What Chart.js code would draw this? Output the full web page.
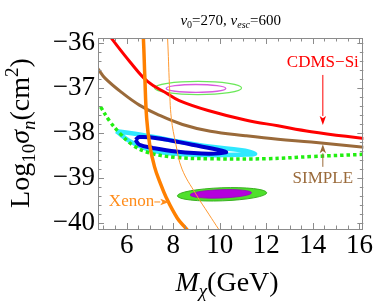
<!DOCTYPE html>
<html>
<head>
<meta charset="utf-8">
<script src="https://cdn.jsdelivr.net/npm/chart.js@4.4.1/dist/chart.umd.min.js"></script>
<style>
  html, body { margin: 0; padding: 0; background: #fff; }
  #c { display: block; }
</style>
</head>
<body>
<canvas id="c" width="374" height="305"></canvas>
<script>
// Axes
const xTicks = [6, 8, 10, 12, 14, 16];
const yTicks = [-40, -39, -38, -37, -36];

// Limites d'exclusion
const cdmsX = [5.1, 5.35, 6.13, 6.91, 7.7, 8.26, 9.5, 11.1, 12.5, 13.93, 16.3];
const cdmsY = [-35.73, -35.90, -36.41, -36.86, -37.11, -37.28, -37.50, -37.71, -37.84, -37.97, -38.13];

const simpleX = [4.6, 4.78, 5.07, 5.84, 6.55, 7.3, 8.4, 9.6, 11.1, 12.5, 13.93, 16.3];
const simpleY = [-36.46, -36.58, -36.78, -37.12, -37.38, -37.58, -37.81, -37.96, -38.06, -38.14, -38.20, -38.32];

const dottedX = [4.88, 5.28, 5.7, 6.27, 6.98, 8.12, 9.53, 12, 14, 16.3];
const dottedY = [-37.42, -37.74, -38.0, -38.27, -38.44, -38.54, -38.57, -38.57, -38.52, -38.47];

const xenonX = [6.68, 6.72, 6.78, 6.86, 7.0, 7.2, 7.4, 7.7, 8.18, 8.6, 8.7];
const xenonY = [-35.70, -35.90, -36.73, -37.67, -38.29, -38.75, -39.05, -39.43, -39.89, -40.15, -40.25];

const xenon2X = [7.72, 7.76, 7.84, 7.92, 8.12, 8.38, 8.97, 9.53, 9.96, 10.1];
const xenon2Y = [-35.70, -35.90, -36.94, -37.67, -38.26, -38.80, -39.35, -39.80, -40.14, -40.25];

// Contours fermés (régions)
const cyanX = [5.56, 6.68, 8.12, 9.53, 10.94, 11.52, 10.94, 9.53, 8.12, 6.98, 6.13, 5.56];
const cyanY = [-37.96, -38.04, -38.18, -38.30, -38.38, -38.46, -38.48, -38.49, -38.46, -38.37, -38.18, -37.96];

const blueX = [6.38, 6.55, 7.40, 8.82, 10.1, 10.27, 9.53, 8.12, 7.12, 6.55, 6.38];
const blueY = [-38.15, -38.09, -38.12, -38.26, -38.39, -38.43, -38.46, -38.41, -38.33, -38.26, -38.15];

// Ellipses (centre, demi-axes)
const blobCx = [9.07, 8.98, 10.1, 10.05];
const blobCy = [-37.0, -37.01, -39.36, -39.35];
const blobRx = [1.87, 1.28, 1.92, 1.32];
const blobRy = [0.145, 0.088, 0.145, 0.093];

// Annotations
const noteText = ['CDMS\u2212Si', 'SIMPLE', 'Xenon'];
const noteX = [14.43, 14.43, 6.21];
const noteY = [-36.44, -39.0, -39.53];
const arrowFromX = [14.43, 14.43, 7.19];
const arrowFromY = [-36.71, -38.75, -39.53];
const arrowToX = [14.43, 14.43, 7.83];
const arrowToY = [-37.82, -38.25, -39.53];

const SERIF = "'Liberation Serif', 'Times New Roman', serif";
const noteColors = ['#ff0000', '#9a6a3a', '#ff8c1a'];

function pts(xs, ys) {
    return xs.map((x, i) => ({ x: x, y: ys[i] }));
}

function line(data, color, width, extra) {
    return Object.assign({
        data: data,
        showLine: true,
        borderColor: color,
        borderWidth: width,
        pointRadius: 0,
        tension: 0.4,
        fill: false,
        clip: 0
    }, extra || {});
}

function font(size, italic) {
    return (italic ? 'italic ' : '') + size + 'px ' + SERIF;
}

// texte avec indices / exposants : [texte, taille, italique, décalage]
function drawRich(ctx, parts, x, y) {
    let w = 0;
    parts.forEach(p => { ctx.font = font(p[1], p[2]); w += ctx.measureText(p[0]).width; });
    let cx = x - w / 2;
    parts.forEach(p => {
        ctx.font = font(p[1], p[2]);
        ctx.fillText(p[0], cx, y + p[3]);
        cx += ctx.measureText(p[0]).width;
    });
}

const overlay = {
    id: 'overlay',
    beforeDatasetsDraw(chart) {
        const ctx = chart.ctx, a = chart.chartArea;
        const sx = chart.scales.x, sy = chart.scales.y;
        const fills = [null, null, '#4fe02c', '#b400dc'];
        const strokes = ['#6ce85a', '#d95ae0', '#38b020', '#9a00c0'];
        const widths = [1.2, 1.4, 1, 0.8];
        const tilt = [0, 0, -0.035, -0.035];
        ctx.save();
        ctx.beginPath();
        ctx.rect(a.left, a.top, a.right - a.left, a.bottom - a.top);
        ctx.clip();
        // dessiner les ellipses pleines d'abord (grande puis petite)
        [2, 3, 0, 1].forEach(i => {
            const cx = sx.getPixelForValue(blobCx[i]);
            const cy = sy.getPixelForValue(blobCy[i]);
            const rx = Math.abs(sx.getPixelForValue(blobCx[i] + blobRx[i]) - cx);
            const ry = Math.abs(sy.getPixelForValue(blobCy[i] + blobRy[i]) - cy);
            ctx.beginPath();
            ctx.ellipse(cx, cy, rx, ry, tilt[i], 0, Math.PI * 2);
            if (fills[i]) { ctx.fillStyle = fills[i]; ctx.fill(); }
            ctx.strokeStyle = strokes[i];
            ctx.lineWidth = widths[i];
            ctx.stroke();
        });
        ctx.restore();
    },
    afterDatasetsDraw(chart) {
        const ctx = chart.ctx, a = chart.chartArea;
        const sx = chart.scales.x, sy = chart.scales.y;
        ctx.save();

        // cadre
        ctx.strokeStyle = '#8c8c8c';
        ctx.lineWidth = 1;
        ctx.strokeRect(Math.round(a.left) + 0.5, Math.round(a.top) + 0.5,
            Math.round(a.right - a.left) - 1, Math.round(a.bottom - a.top));

        // graduations intérieures sur les quatre côtés
        ctx.beginPath();
        for (let v = 5; v <= 16.01; v += 0.5) {
            const major = Math.abs(v / 2 - Math.round(v / 2)) < 1e-6;
            const len = major ? 6 : 3.5;
            const px = Math.round(sx.getPixelForValue(v)) + 0.5;
            ctx.moveTo(px, a.bottom); ctx.lineTo(px, a.bottom - len);
            ctx.moveTo(px, a.top); ctx.lineTo(px, a.top + len);
        }
        for (let k = -200; k <= -180; k++) {
            const v = k / 5;
            const major = k % 5 === 0;
            const len = major ? 6 : 3.5;
            const py = Math.round(sy.getPixelForValue(v)) + 0.5;
            if (py < a.top || py > a.bottom) continue;
            ctx.moveTo(a.left, py); ctx.lineTo(a.left + len, py);
            ctx.moveTo(a.right, py); ctx.lineTo(a.right - len, py);
        }
        ctx.stroke();

        // annotations avec flèches
        noteText.forEach((t, i) => {
            ctx.fillStyle = noteColors[i];
            ctx.strokeStyle = noteColors[i];
            ctx.font = font(17, false);
            ctx.textAlign = 'center';
            ctx.textBaseline = 'middle';
            ctx.fillText(t, sx.getPixelForValue(noteX[i]), sy.getPixelForValue(noteY[i]));

            const x0 = sx.getPixelForValue(arrowFromX[i]), y0 = sy.getPixelForValue(arrowFromY[i]);
            const x1 = sx.getPixelForValue(arrowToX[i]), y1 = sy.getPixelForValue(arrowToY[i]);
            const ang = Math.atan2(y1 - y0, x1 - x0);
            const hl = 9, hw = 3.2;
            ctx.lineWidth = 1;
            ctx.beginPath();
            ctx.moveTo(x0, y0);
            ctx.lineTo(x1 - hl * Math.cos(ang), y1 - hl * Math.sin(ang));
            ctx.stroke();
            ctx.beginPath();
            ctx.moveTo(x1, y1);
            ctx.lineTo(x1 - hl * Math.cos(ang) + hw * Math.sin(ang), y1 - hl * Math.sin(ang) - hw * Math.cos(ang));
            ctx.lineTo(x1 - hl * 0.75 * Math.cos(ang), y1 - hl * 0.75 * Math.sin(ang));
            ctx.lineTo(x1 - hl * Math.cos(ang) - hw * Math.sin(ang), y1 - hl * Math.sin(ang) + hw * Math.cos(ang));
            ctx.closePath();
            ctx.fill();
        });
        ctx.restore();
    },
    afterDraw(chart) {
        const ctx = chart.ctx, a = chart.chartArea;
        ctx.save();
        ctx.fillStyle = '#000';
        ctx.textAlign = 'left';
        ctx.textBaseline = 'alphabetic';

        // titre
        drawRich(ctx, [
            ['v', 15, true, 0], ['0', 10, false, 3], ['=270, ', 15, false, 0],
            ['v', 15, true, 0], ['esc', 10, true, 3], ['=600', 15, false, 0]
        ], (a.left + a.right) / 2, 25);

        // titre axe x
        drawRich(ctx, [
            ['M', 28, true, 0], ['\u03c7', 19, true, 6], ['(GeV)', 28, false, 0]
        ], 227, 291);

        // titre axe y
        ctx.translate(29, 133);
        ctx.rotate(-Math.PI / 2);
        drawRich(ctx, [
            ['Log', 28, false, 0], ['10', 19, false, 6], ['\u03c3', 28, true, 0],
            ['n', 19, true, 6], ['(cm', 28, false, 0], ['2', 19, false, -11], [')', 28, false, 0]
        ], 0, 0);
        ctx.restore();
    }
};

new Chart(document.getElementById('c'), {
    type: 'scatter',
    data: {
        datasets: [
            line(pts(xenonX, xenonY), '#ff8000', 3.5),
            line(pts(xenon2X, xenon2Y), '#ff9a33', 1),
            line(pts(cdmsX, cdmsY), '#ff0000', 3),
            line(pts(simpleX, simpleY), '#9a6a3a', 3),
            line(pts(dottedX, dottedY), '#22ee11', 3.5, { borderDash: [3.5, 3] }),
            line(pts(blueX, blueY), '#0000d0', 4),
            line(pts(cyanX, cyanY), '#30e8ff', 4.5)
        ]
    },
    options: {
        responsive: false,
        devicePixelRatio: 1,
        animation: false,
        layout: { padding: { left: 0, top: 38, right: 8, bottom: 0 } },
        plugins: { legend: { display: false }, tooltip: { enabled: false }, title: { display: false } },
        scales: {
            x: {
                type: 'linear',
                min: 4.77,
                max: 16.17,
                grid: { display: false, drawTicks: false },
                border: { display: false },
                afterBuildTicks: s => { s.ticks = xTicks.map(v => ({ value: v })); },
                afterFit: s => { s.height = 76; },
                ticks: {
                    padding: 1,
                    color: '#000',
                    font: { family: SERIF, size: 27 },
                    maxRotation: 0,
                    autoSkip: false
                }
            },
            y: {
                type: 'linear',
                min: -40.13,
                max: -35.89,
                grid: { display: false, drawTicks: false },
                border: { display: false },
                afterBuildTicks: s => { s.ticks = yTicks.map(v => ({ value: v })); },
                afterFit: s => { s.width = 98; },
                ticks: {
                    padding: 3,
                    color: '#000',
                    font: { family: SERIF, size: 27 },
                    autoSkip: false,
                    callback: v => '\u2212' + Math.abs(v)
                }
            }
        }
    },
    plugins: [overlay]
});
</script>
</body>
</html>
